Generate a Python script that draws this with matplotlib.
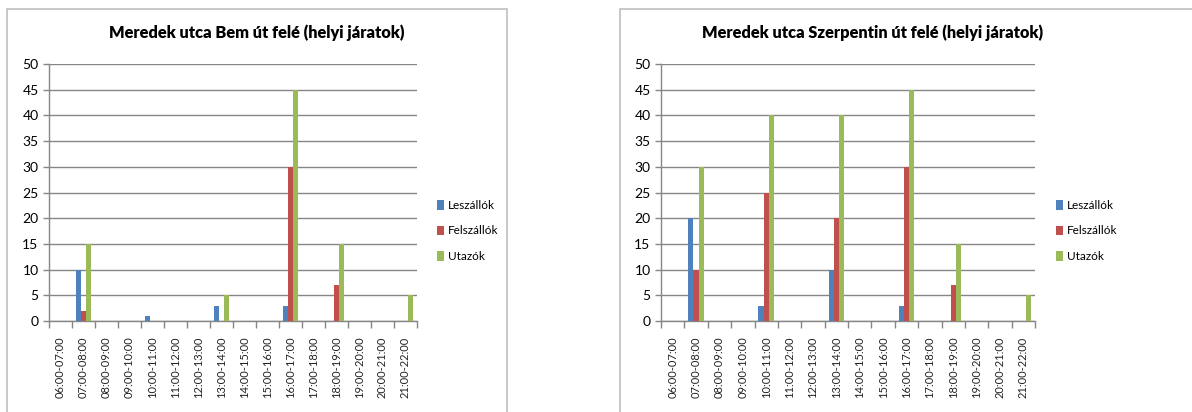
import matplotlib
matplotlib.use("Agg")
import matplotlib.pyplot as plt
import numpy as np
from matplotlib.patches import Rectangle

categories = ["06:00-07:00", "07:00-08:00", "08:00-09:00", "09:00-10:00",
              "10:00-11:00", "11:00-12:00", "12:00-13:00", "13:00-14:00",
              "14:00-15:00", "15:00-16:00", "16:00-17:00", "17:00-18:00",
              "18:00-19:00", "19:00-20:00", "20:00-21:00", "21:00-22:00"]
series_names = ["Leszállók", "Felszállók", "Utazók"]

title_left = "Meredek utca Bem út felé (helyi járatok)"
left_lesz = [0, 10, 0, 0, 1, 0, 0, 3, 0, 0, 3, 0, 0, 0, 0, 0]
left_fel = [0, 2, 0, 0, 0, 0, 0, 0, 0, 0, 30, 0, 7, 0, 0, 0]
left_uta = [0, 15, 0, 0, 0, 0, 0, 5, 0, 0, 45, 0, 15, 0, 0, 5]

title_right = "Meredek utca Szerpentin út felé (helyi járatok)"
right_lesz = [0, 20, 0, 0, 3, 0, 0, 10, 0, 0, 3, 0, 0, 0, 0, 0]
right_fel = [0, 10, 0, 0, 25, 0, 0, 20, 0, 0, 30, 0, 7, 0, 0, 0]
right_uta = [0, 30, 0, 0, 40, 0, 0, 40, 0, 0, 45, 0, 15, 0, 0, 5]

colors = ["#4F81BD", "#C0504D", "#9BBB59"]
W, H = 1192, 412
fig = plt.figure(figsize=(W / 100, H / 100), dpi=100)
FONT = "Lato"

def fx(px):
    return px / W

def fy(py):
    return 1 - py / H

# panel borders
for (x0, x1) in [(7, 507), (620, 1220)]:
    fig.patches.append(Rectangle((fx(x0), fy(430)), fx(x1 - x0), (430 - 9) / H,
                                 transform=fig.transFigure, fill=False,
                                 edgecolor="#BFBFBF", linewidth=1.2))

def panel(ax_px, title, title_x, legend_x, data):
    x0, x1, ytop, ybot = ax_px
    ax = fig.add_axes([fx(x0), fy(ybot), fx(x1 - x0), (ybot - ytop) / H])
    n = len(categories)
    x = np.arange(n)
    bw = 1 / 4.5
    handles = []
    for i, (vals, c, name) in enumerate(zip(data, colors, series_names)):
        h = ax.bar(x + (i - 1) * bw, vals, width=bw, color=c, label=name,
                   zorder=3, edgecolor="none")
        handles.append(h)
    ax.set_xlim(-0.5, n - 0.5)
    ax.set_ylim(0, 50)
    ax.set_yticks(np.arange(0, 51, 5))
    ax.set_xticks(x)
    ax.set_xticklabels(categories, rotation=90, fontsize=8, family=FONT,
                       color="#222222")
    ax.set_xticks(np.arange(-0.5, n, 1), minor=True)
    ax.tick_params(axis="x", which="major", length=0, pad=11)
    ax.tick_params(axis="x", which="minor", length=5, color="#868686", width=1)
    ax.tick_params(axis="y", length=4, color="#868686", width=1, labelsize=10)
    for lab in ax.get_yticklabels():
        lab.set_family(FONT)
    ax.grid(axis="y", color="#868686", linewidth=1, zorder=0)
    for s in ["top", "right"]:
        ax.spines[s].set_visible(False)
    for s in ["left", "bottom"]:
        ax.spines[s].set_color("#868686")
        ax.spines[s].set_linewidth(1)
    ax.set_axisbelow(True)
    fig.text(fx(title_x), fy(33), title, ha="center", va="center",
             fontsize=11.8, fontweight="heavy", family=FONT)
    fig.legend(handles=handles, labels=series_names, loc="center left",
               bbox_to_anchor=(fx(legend_x), fy(231)), frameon=False,
               prop={"family": FONT, "size": 8.5}, handlelength=0.6,
               handleheight=0.9, handletextpad=0.3, labelspacing=1.25,
               borderpad=0, borderaxespad=0)
    return ax

panel((49, 417, 64, 321), title_left, 257, 437, [left_lesz, left_fel, left_uta])
panel((661, 1035, 64, 321), title_right, 873, 1056, [right_lesz, right_fel, right_uta])

fig.savefig("out.png", dpi=100)
